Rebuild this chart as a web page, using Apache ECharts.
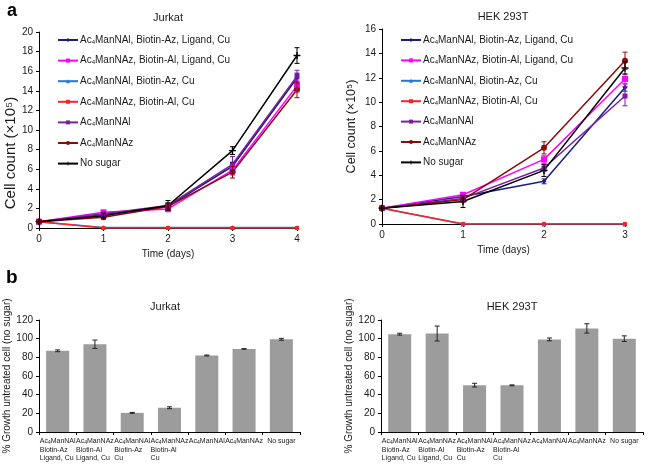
<!DOCTYPE html>
<html><head><meta charset="utf-8">
<script src="https://cdn.jsdelivr.net/npm/echarts@6/dist/echarts.min.js"></script>
<style>html,body{margin:0;padding:0;background:#fff}#c{width:649px;height:469px}</style>
</head><body><div id="c"></div>
<script>
// ---------- data ----------
const seriesNames = [
  'Ac4ManNAl, Biotin-Az, Ligand, Cu',
  'Ac4ManNAz, Biotin-Al, Ligand, Cu',
  'Ac4ManNAl, Biotin-Az, Cu',
  'Ac4ManNAz, Biotin-Al, Cu',
  'Ac4ManNAl',
  'Ac4ManNAz',
  'No sugar'
];
const seriesColors = ['#1c1c80', '#ff00ff', '#1f7bd1', '#ff2222', '#7b1fa0', '#8b0a0a', '#000000'];

const jurkatDays = [0, 1, 2, 3, 4];
const jurkat1 = [0.65, 1.4, 2.2, 6.3, 15.3];
const jurkat2 = [0.65, 1.6, 1.95, 5.9, 14.5];
const jurkat3 = [0.65, 0.05, 0.05, 0.05, 0.05];
const jurkat4 = [0.65, 0.0, 0.0, 0.0, 0.0];
const jurkat5 = [0.65, 1.45, 2.3, 6.5, 15.5];
const jurkat6 = [0.65, 1.1, 2.2, 5.7, 14.1];
const jurkat7 = [0.65, 1.25, 2.3, 7.9, 17.6];
const jurkatErr1 = [0, 0.2, 0.3, 0.4, 0.5];
const jurkatErr2 = [0, 0.2, 0.3, 0.5, 0.6];
const jurkatErr3 = [0, 0, 0, 0, 0];
const jurkatErr4 = [0, 0, 0, 0, 0];
const jurkatErr5 = [0, 0.2, 0.3, 0.8, 0.6];
const jurkatErr6 = [0, 0.2, 0.2, 0.6, 0.8];
const jurkatErr7 = [0, 0.2, 0.5, 0.4, 0.8];

const hekDays = [0, 1, 2, 3];
const hek1 = [1.3, 2.25, 3.5, 11.2];
const hek2 = [1.3, 2.4, 5.3, 11.9];
const hek3 = [1.3, 0.0, 0.0, 0.0];
const hek4 = [1.3, 0.0, 0.0, 0.0];
const hek5 = [1.3, 2.1, 4.6, 10.5];
const hek6 = [1.3, 2.0, 6.25, 13.4];
const hek7 = [1.3, 1.85, 4.4, 12.8];
const hekErr1 = [0, 0.1, 0.2, 0.3];
const hekErr2 = [0, 0.1, 0.3, 0.4];
const hekErr3 = [0, 0, 0, 0];
const hekErr4 = [0, 0, 0, 0];
const hekErr5 = [0, 0.2, 0.3, 0.8];
const hekErr6 = [0, 0.2, 0.5, 0.7];
const hekErr7 = [0, 0.5, 0.5, 0.5];

const barCategories = [
  'Ac4ManNAl\nBiotin-Az\nLigand, Cu',
  'Ac4ManNAz\nBiotin-Al\nLigand, Cu',
  'Ac4ManNAl\nBiotin-Az\nCu',
  'Ac4ManNAz\nBiotin-Al\nCu',
  'Ac4ManNAl',
  'Ac4ManNAz',
  'No sugar'
];
const jurkatBar = [87, 94, 20.5, 26, 82, 89, 99.3];
const jurkatBarErr = [1, 4.5, 0.5, 1, 0.5, 0.3, 1];
const hekBar = [104.8, 105.5, 50.2, 50, 99.2, 111, 100];
const hekBarErr = [1, 8, 2, 0.5, 1.5, 5, 3];

const lineTicks20 = { min: 0, max: 20, interval: 2 };
const lineTicks16 = { min: 0, max: 16, interval: 2 };

// ---------- styles ----------
const FF = '"Liberation Sans", Arial, Helvetica, sans-serif';
const TXT = '#1a1a1a';
const symbols = ['diamond', 'rect', 'triangle', 'rect', 'rect', 'circle',
  'path://M4,0H6V4H10V6H6V10H4V6H0V4H4Z'];
const symbolSizes = [5, 6, 5, 4, 5, 6, 7];

const jurkatVals = [jurkat1, jurkat2, jurkat3, jurkat4, jurkat5, jurkat6, jurkat7];
const jurkatErrs = [jurkatErr1, jurkatErr2, jurkatErr3, jurkatErr4, jurkatErr5, jurkatErr6, jurkatErr7];
const hekVals = [hek1, hek2, hek3, hek4, hek5, hek6, hek7];
const hekErrs = [hekErr1, hekErr2, hekErr3, hekErr4, hekErr5, hekErr6, hekErr7];

function subFmt(name) { return name.replace(/^Ac4/, 'Ac{s|4}'); }

function errRenderer(color, hw) {
  return function (params, api) {
    const x = api.value(0), y = api.value(1), e = api.value(2);
    if (!e) return null;
    const t = api.coord([x, y + e]), b = api.coord([x, Math.max(0, y - e)]);
    const st = { stroke: color, lineWidth: 1 };
    return { type: 'group', children: [
      { type: 'line', shape: { x1: t[0], y1: t[1], x2: b[0], y2: b[1] }, style: st },
      { type: 'line', shape: { x1: t[0] - hw, y1: t[1], x2: t[0] + hw, y2: t[1] }, style: st },
      { type: 'line', shape: { x1: b[0] - hw, y1: b[1], x2: b[0] + hw, y2: b[1] }, style: st }
    ]};
  };
}

const grids = [
  { left: 39, top: 32, width: 258, height: 196 },
  { left: 382, top: 29, width: 243, height: 195 },
  { left: 39, top: 320, width: 261, height: 112 },
  { left: 381, top: 320, width: 262, height: 112 }
];

const axisLine = { show: true, lineStyle: { color: '#000', width: 1 } };
const axisTick = { show: true, length: 3, lineStyle: { color: '#000' } };
const axisLabel = { color: TXT, fontSize: 10, fontFamily: FF };

function valueX(gi, max) {
  return { type: 'value', gridIndex: gi, min: 0, max: max, interval: 1,
    axisLine, axisTick, splitLine: { show: false },
    axisLabel: Object.assign({ margin: 6 }, axisLabel),
    name: 'Time (days)', nameLocation: 'middle', nameGap: 21,
    nameTextStyle: { color: TXT, fontSize: 10, fontFamily: FF } };
}
function valueY(gi, t, name, gap, fs, pad) {
  return { type: 'value', gridIndex: gi, min: t.min, max: t.max, interval: t.interval,
    axisLine, axisTick, splitLine: { show: false },
    axisLabel: Object.assign({ margin: 6 }, axisLabel),
    name: name, nameLocation: 'middle', nameGap: gap,
    nameTextStyle: { color: TXT, fontSize: fs, fontFamily: FF, padding: pad || 0 } };
}

const series = [];
function addLinePanel(gi, days, vals, errs) {
  vals.forEach((v, i) => {
    series.push({
      type: 'line', name: seriesNames[i], xAxisIndex: gi, yAxisIndex: gi,
      data: days.map((d, k) => [d, v[k]]),
      symbol: symbols[i], symbolSize: symbolSizes[i],
      lineStyle: { color: seriesColors[i], width: 1.5 },
      itemStyle: { color: seriesColors[i] },
      animation: false, z: 3
    });
    series.push({
      type: 'custom', name: 'err' + gi + '_' + i, xAxisIndex: gi, yAxisIndex: gi,
      data: days.map((d, k) => [d, v[k], errs[i][k]]),
      renderItem: errRenderer(seriesColors[i], 2.5), animation: false, z: 4,
      encode: { x: 0, y: 1 }
    });
  });
}
addLinePanel(0, jurkatDays, jurkatVals, jurkatErrs);
addLinePanel(1, hekDays, hekVals, hekErrs);

function addBarPanel(gi, vals, errs) {
  series.push({
    type: 'bar', name: 'bar' + gi, xAxisIndex: gi, yAxisIndex: gi, data: vals,
    barWidth: 23, itemStyle: { color: '#9c9c9c' }, animation: false
  });
  series.push({
    type: 'custom', name: 'barerr' + gi, xAxisIndex: gi, yAxisIndex: gi,
    data: vals.map((v, k) => [k, v, errs[k]]),
    renderItem: errRenderer('#222', 2.5), animation: false, z: 5,
    encode: { x: 0, y: 1 }
  });
}
addBarPanel(2, jurkatBar, jurkatBarErr);
addBarPanel(3, hekBar, hekBarErr);

function barLabelFmt(v) {
  return v.split('\n').map(l => {
    const m = l.match(/^Ac4(.*)$/);
    return m ? '{n|Ac}{s|4}{n|' + m[1] + '}' : '{n|' + l + '}';
  }).join('\n');
}
function catX(gi) {
  return { type: 'category', gridIndex: gi, data: barCategories,
    axisLine, axisTick: Object.assign({ alignWithLabel: false }, axisTick),
    axisLabel: { interval: 0, margin: 5, formatter: barLabelFmt,
      rich: { n: { fontSize: 7, fontFamily: FF, color: TXT, align: 'left', lineHeight: 8.5 },
              s: { fontSize: 5, fontFamily: FF, color: TXT, align: 'left', verticalAlign: 'bottom', lineHeight: 8.5 } } } };
}

function legend(left, top, gap) {
  return { show: true, data: seriesNames, orient: 'vertical', left: left, top: top,
    itemWidth: 20, itemHeight: 5, itemGap: gap, padding: 0, selectedMode: false,
    formatter: subFmt,
    textStyle: { fontSize: 10, fontFamily: FF, color: TXT, padding: [0, 0, 0, -3],
      rich: { s: { fontSize: 6, fontFamily: FF, color: TXT, verticalAlign: 'bottom', padding: [3, 0, 0, 0] } } } };
}

function title(text, x, y) {
  return { text: text, left: x, top: y, textAlign: 'center', padding: 0,
    textStyle: { fontSize: 11, fontWeight: 'normal', fontFamily: FF, color: TXT } };
}

const option = {
  backgroundColor: '#fff',
  animation: false,
  title: [
    title('Jurkat', 168, 12), title('HEK 293T', 503, 11),
    title('Jurkat', 165, 301), title('HEK 293T', 512, 301),
    { text: 'a', left: 7, top: 2, padding: 0, textStyle: { fontSize: 18, fontWeight: 'bold', fontFamily: FF, color: '#000' } },
    { text: 'b', left: 6, top: 268, padding: 0, textStyle: { fontSize: 19, fontWeight: 'bold', fontFamily: FF, color: '#000' } }
  ],
  legend: [legend(57, 35, 10.6), legend(400, 35, 10.4)],
  grid: grids,
  xAxis: [valueX(0, 4), valueX(1, 3), catX(2), catX(3)],
  yAxis: [
    valueY(0, lineTicks20, 'Cell count (×10⁵)', 21, 15, [0, 46, 0, 0]),
    valueY(1, lineTicks16, 'Cell count (×10⁵)', 24, 12.5),
    valueY(2, { min: 0, max: 120, interval: 20 }, '% Growth untreated cell (no sugar)', 21, 10),
    valueY(3, { min: 0, max: 120, interval: 20 }, '% Growth untreated cell (no sugar)', 23, 10)
  ],
  series: series
};

const chart = echarts.init(document.getElementById('c'), null, { renderer: 'canvas' });
chart.setOption(option);
</script>
</body></html>
